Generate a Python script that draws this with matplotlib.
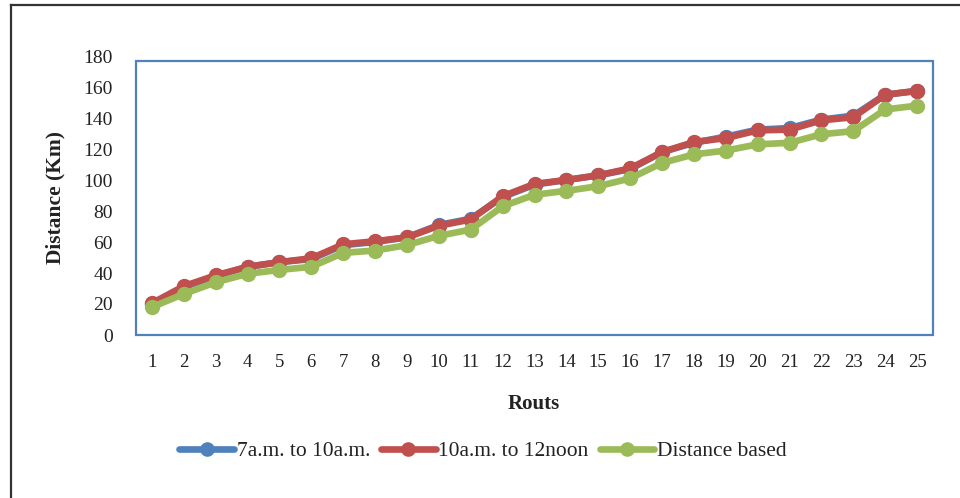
import matplotlib
matplotlib.use("Agg")
import matplotlib.pyplot as plt
from matplotlib.patches import Rectangle
from matplotlib.lines import Line2D

routes = list(range(1, 26))
series_names = ["7a.m. to 10a.m.", "10a.m. to 12noon", "Distance based"]
morning = [20, 31, 38, 44, 47, 49, 58, 60, 63, 71, 75, 89, 97, 100, 103,
           107, 118, 124, 128, 132.5, 133.5, 139, 141.5, 155, 157.5]
midday = [20.5, 31.5, 38.5, 44, 47, 49.5, 58.5, 60.5, 63, 70.5, 74.5, 89.5, 97.5, 100, 103,
          107.5, 118, 124.5, 127, 132, 132.5, 138.5, 140.5, 155, 157.5]
distance = [18, 26.5, 34, 39.5, 42, 44, 53, 54.5, 58, 64, 68, 83, 90.5, 93, 96,
            101, 111, 116.5, 119, 123, 124, 129.5, 131.5, 145.5, 148]
y_ticks = [0, 20, 40, 60, 80, 100, 120, 140, 160, 180]

colors = ["#4F81BD", "#C0504D", "#9BBB59"]

plt.rcParams['font.family'] = ['Liberation Serif', 'DejaVu Serif']

fig = plt.figure(figsize=(9.6, 4.98), dpi=100)
W, H = 960, 498
left, right, top_px, bot_px = 136, 933, 56, 335
ax = fig.add_axes([left / W, (H - bot_px) / H, (right - left) / W, (bot_px - top_px) / H])

for vals, c, name in zip([morning, midday, distance], colors, series_names):
    ax.plot(routes, vals, color=c, lw=4.8, marker='o', ms=10, mec=c, mfc=c,
            label=name, solid_capstyle='round', zorder=3)

ax.set_xlim(0.5, 25.5)
ax.set_ylim(0, 180)
ax.set_yticks(y_ticks)
ax.set_xticks(routes)
ax.tick_params(axis='y', length=0, pad=16.5, labelsize=14, labelcolor='#222222')
ax.tick_params(axis='x', length=0, pad=14, labelsize=13.5, labelcolor='#222222')
for s in ax.spines.values():
    s.set_visible(False)

# plot area box
box_top = (bot_px - 60.7) / (bot_px - top_px)
ax.add_patch(Rectangle((0, 0), 1, box_top, transform=ax.transAxes, fill=False,
                       ec="#4F81BD", lw=1.6, clip_on=False, zorder=1))

fig.text(55 / W, 1 - 197 / H, "Distance (Km)", rotation=90, ha='center', va='center',
         fontsize=15.5, fontweight='bold', color='#222222')
fig.text(534 / W, 1 - 404 / H, "Routs", ha='center', va='center',
         fontsize=15, fontweight='bold', color='#222222')

leg = fig.legend(loc='center', bbox_to_anchor=(483 / W, 1 - 451 / H), ncol=3,
                 frameon=False, fontsize=15.5, handlelength=2.55, handletextpad=0.12,
                 columnspacing=0.5, markerscale=0.95)
for t in leg.get_texts():
    t.set_color('#222222')

# outer border (top and left)
fig.add_artist(Line2D([10.5 / W, 1], [1 - 5.5 / H, 1 - 5.5 / H], transform=fig.transFigure,
                      color='#333333', lw=1.6))
fig.add_artist(Line2D([10.5 / W, 10.5 / W], [0, 1 - 5.5 / H], transform=fig.transFigure,
                      color='#333333', lw=1.6))

fig.savefig("out.png", dpi=100)
